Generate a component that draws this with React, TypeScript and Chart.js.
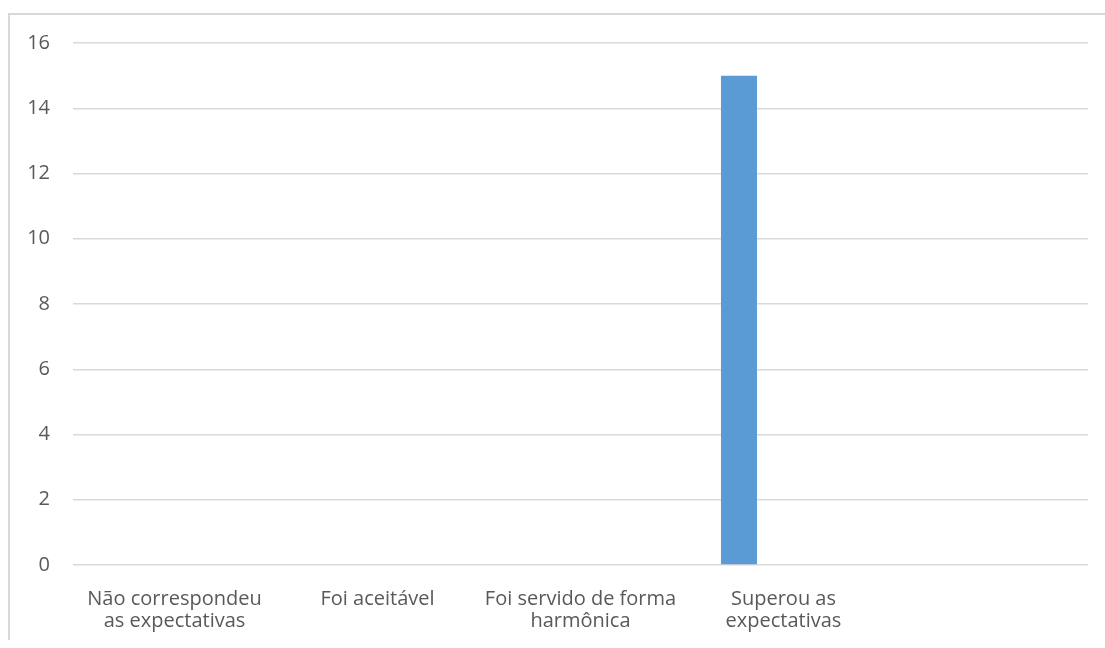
import React, { useEffect, useRef } from "react";
import { Chart, registerables } from "chart.js";

Chart.register(...registerables);

const categories: (string | string[])[] = [
  ["Não correspondeu", "as expectativas"],
  "Foi aceitável",
  ["Foi servido de forma", "harmônica"],
  ["Superou as", "expectativas"],
  "",
];
const series1 = [0, 0, 0, 15, 0];
const series2 = [0, 0, 0, 0, 0];
const series3 = [0, 0, 0, 0, 0];
const yTicks = [0, 2, 4, 6, 8, 10, 12, 14, 16];

const TEXT = "#595959";
const GRID = "#d9d9d9";
const FONT = { family: "'Open Sans', sans-serif", size: 20, lineHeight: 1.12 };

export default function App() {
  const ref = useRef<HTMLCanvasElement | null>(null);
  useEffect(() => {
    if (!ref.current) return;
    const chart = new Chart(ref.current, {
      type: "bar",
      data: {
        labels: categories,
        datasets: [
          { label: "Série 1", data: series1, backgroundColor: "#5b9bd5", borderWidth: 0 },
          { label: "Série 2", data: series2, backgroundColor: "#ed7d31", borderWidth: 0 },
          { label: "Série 3", data: series3, backgroundColor: "#a5a5a5", borderWidth: 0 },
        ],
      },
      options: {
        animation: false,
        responsive: false,
        categoryPercentage: 0.658,
        barPercentage: 0.809,
        layout: { padding: { top: 28, right: 17, bottom: 0, left: 0 } },
        plugins: { legend: { display: false }, tooltip: { enabled: false } },
        scales: {
          x: {
            grid: { display: false, drawTicks: false },
            border: { display: false },
            ticks: { color: TEXT, font: FONT, padding: 23, maxRotation: 0, autoSkip: false },
            afterFit: (s: any) => {
              s.height = 75;
            },
          },
          y: {
            min: yTicks[0],
            max: yTicks[yTicks.length - 1],
            grid: { color: GRID, lineWidth: 1.5, drawTicks: false },
            border: { display: false },
            ticks: { stepSize: 2, color: TEXT, font: FONT, padding: 23 },
            afterFit: (s: any) => {
              s.width = 63;
              s.paddingTop = 0;
              s.paddingBottom = 0;
            },
          },
        },
      },
    });
    return () => chart.destroy();
  }, []);
  return (
    <div
      style={{
        position: "absolute",
        left: 8,
        top: 13,
        width: 1097,
        height: 627,
        boxSizing: "border-box",
        borderTop: `2px solid ${GRID}`,
        borderLeft: `2px solid ${GRID}`,
        background: "#fff",
      }}
    >
      <canvas ref={ref} width={1095} height={625} style={{ display: "block" }} />
    </div>
  );
}
